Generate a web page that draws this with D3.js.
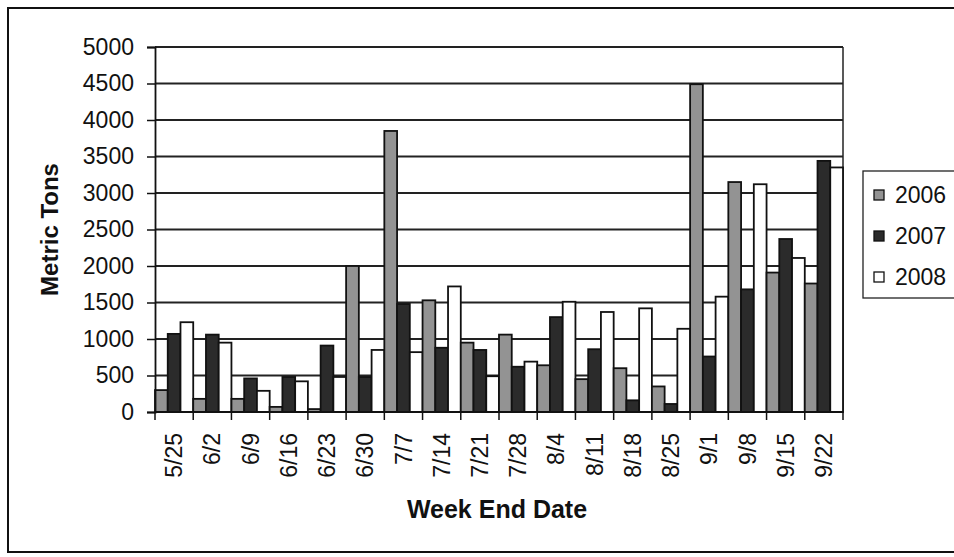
<!DOCTYPE html>
<html lang="en">
  <head>
    <meta charset="utf-8">
    <title>Metric Tons by Week End Date</title>
    <style type="text/css">
    body { margin: 0; background: #fff; }
    text { font-family: "Liberation Sans", Arial, sans-serif; fill: #111; }
    .grid line { stroke: #222; stroke-width: 1.8; }
    .bar { stroke: #111; stroke-width: 1.8; }
    </style>
  </head>
  <body>
    <script src="https://d3js.org/d3.v7.min.js"></script>
    <div id="chart"></div>
    <script type="text/javascript">

    // data
    var weeks = ["5/25","6/2","6/9","6/16","6/23","6/30","7/7","7/14","7/21","7/28",
                 "8/4","8/11","8/18","8/25","9/1","9/8","9/15","9/22"];
    var years = ["2006","2007","2008"];
    var tons2006 = [300,180,180,70,40,2000,3850,1530,950,1060,640,450,600,350,4490,3150,1910,1760];
    var tons2007 = [1070,1060,460,480,910,480,1480,880,850,620,1300,860,160,110,760,1680,2370,3440];
    var tons2008 = [1230,950,290,420,480,850,820,1720,490,690,1510,1370,1420,1140,1580,3120,2110,3350];
    var yTicks = [0,500,1000,1500,2000,2500,3000,3500,4000,4500,5000];
    var colors = ["#939393", "#2b2b2b", "#ffffff"];

    var width = 954,
        height = 557;
    var plot = { left: 155, right: 843, top: 47, bottom: 412 };

    var svg = d3.select("#chart")
        .append("svg")
        .attr("width", width)
        .attr("height", height);

    // outer frame (right edge is off the page)
    svg.append("rect")
        .attr("x", 8).attr("y", 8)
        .attr("width", 960).attr("height", 544)
        .attr("fill", "none")
        .attr("stroke", "#111")
        .attr("stroke-width", 2);

    var x = d3.scaleBand()
        .domain(weeks)
        .range([plot.left, plot.right])
        .padding(0);

    var xYear = d3.scaleBand()
        .domain(years)
        .range([0, x.bandwidth()]);

    var y = d3.scaleLinear()
        .domain([0, 5000])
        .range([plot.bottom, plot.top]);

    var color = d3.scaleOrdinal().domain(years).range(colors);

    // gridlines
    svg.append("g")
        .attr("class", "grid")
        .selectAll("line")
        .data(yTicks.slice(1))
        .enter()
        .append("line")
        .attr("x1", plot.left).attr("x2", plot.right)
        .attr("y1", function(d) { return y(d); })
        .attr("y2", function(d) { return y(d); });

    // plot area border on the right
    svg.append("line")
        .attr("x1", plot.right).attr("x2", plot.right)
        .attr("y1", plot.top).attr("y2", plot.bottom)
        .attr("stroke", "#222").attr("stroke-width", 1.5);

    // bars
    var rows = weeks.map(function(w, i) {
      return { week: w, values: [tons2006[i], tons2007[i], tons2008[i]] };
    });

    var groups = svg.selectAll(".week")
        .data(rows)
        .enter()
        .append("g")
        .attr("class", "week")
        .attr("transform", function(d) { return "translate(" + x(d.week) + ",0)"; });

    groups.selectAll("rect")
        .data(function(d) {
          return years.map(function(yr, j) { return { year: yr, value: d.values[j] }; });
        })
        .enter()
        .append("rect")
        .attr("class", "bar")
        .attr("x", function(d) { return xYear(d.year); })
        .attr("width", xYear.bandwidth())
        .attr("y", function(d) { return y(d.value); })
        .attr("height", function(d) { return plot.bottom - y(d.value); })
        .attr("fill", function(d) { return color(d.year); });

    // y axis
    var yAxis = svg.append("g")
        .attr("transform", "translate(" + plot.left + ",0)")
        .call(d3.axisLeft(y).tickValues(yTicks).tickSize(8).tickPadding(13).tickFormat(d3.format("d")));
    yAxis.select(".domain").attr("stroke", "#111").attr("stroke-width", 1.8);
    yAxis.selectAll(".tick line").attr("stroke", "#111").attr("stroke-width", 1.5);
    yAxis.selectAll("text").style("font-size", "23px").attr("fill", "#111");

    // x axis: baseline, ticks at category edges, rotated labels
    svg.append("line")
        .attr("x1", plot.left).attr("x2", plot.right)
        .attr("y1", plot.bottom).attr("y2", plot.bottom)
        .attr("stroke", "#111").attr("stroke-width", 1.8);

    var edges = weeks.map(function(w) { return x(w); }).concat([plot.right]);
    svg.selectAll(".xtick")
        .data(edges)
        .enter()
        .append("line")
        .attr("class", "xtick")
        .attr("x1", function(d) { return d; }).attr("x2", function(d) { return d; })
        .attr("y1", plot.bottom).attr("y2", plot.bottom + 8)
        .attr("stroke", "#111").attr("stroke-width", 1.5);

    svg.selectAll(".xlabel")
        .data(weeks)
        .enter()
        .append("text")
        .attr("class", "xlabel")
        .attr("transform", function(d) {
          return "translate(" + (x(d) + x.bandwidth() / 2) + "," + (plot.bottom + 21) + ") rotate(-90)";
        })
        .attr("dy", "0.35em")
        .attr("text-anchor", "end")
        .style("font-size", "23px")
        .text(function(d) { return d; });

    // axis titles
    svg.append("text")
        .attr("transform", "translate(58," + ((plot.top + plot.bottom) / 2) + ") rotate(-90)")
        .attr("text-anchor", "middle")
        .style("font-size", "24px")
        .style("font-weight", "bold")
        .text("Metric Tons");

    svg.append("text")
        .attr("x", (plot.left + plot.right) / 2 - 2)
        .attr("y", 518)
        .attr("text-anchor", "middle")
        .style("font-size", "25px")
        .style("font-weight", "bold")
        .text("Week End Date");

    // legend
    var legend = svg.append("g").attr("transform", "translate(863,171)");
    legend.append("rect")
        .attr("width", 120).attr("height", 127)
        .attr("fill", "#fff")
        .attr("stroke", "#222").attr("stroke-width", 1.3);

    var item = legend.selectAll(".item")
        .data(years)
        .enter()
        .append("g")
        .attr("class", "item")
        .attr("transform", function(d, i) { return "translate(11," + (24 + i * 41) + ")"; });

    item.append("rect")
        .attr("x", 0).attr("y", -5)
        .attr("width", 10).attr("height", 10)
        .attr("fill", function(d) { return color(d); })
        .attr("stroke", "#111").attr("stroke-width", 1.3);

    item.append("text")
        .attr("x", 21)
        .attr("dy", "0.36em")
        .style("font-size", "23px")
        .text(function(d) { return d; });

    </script>
  </body>
</html>
